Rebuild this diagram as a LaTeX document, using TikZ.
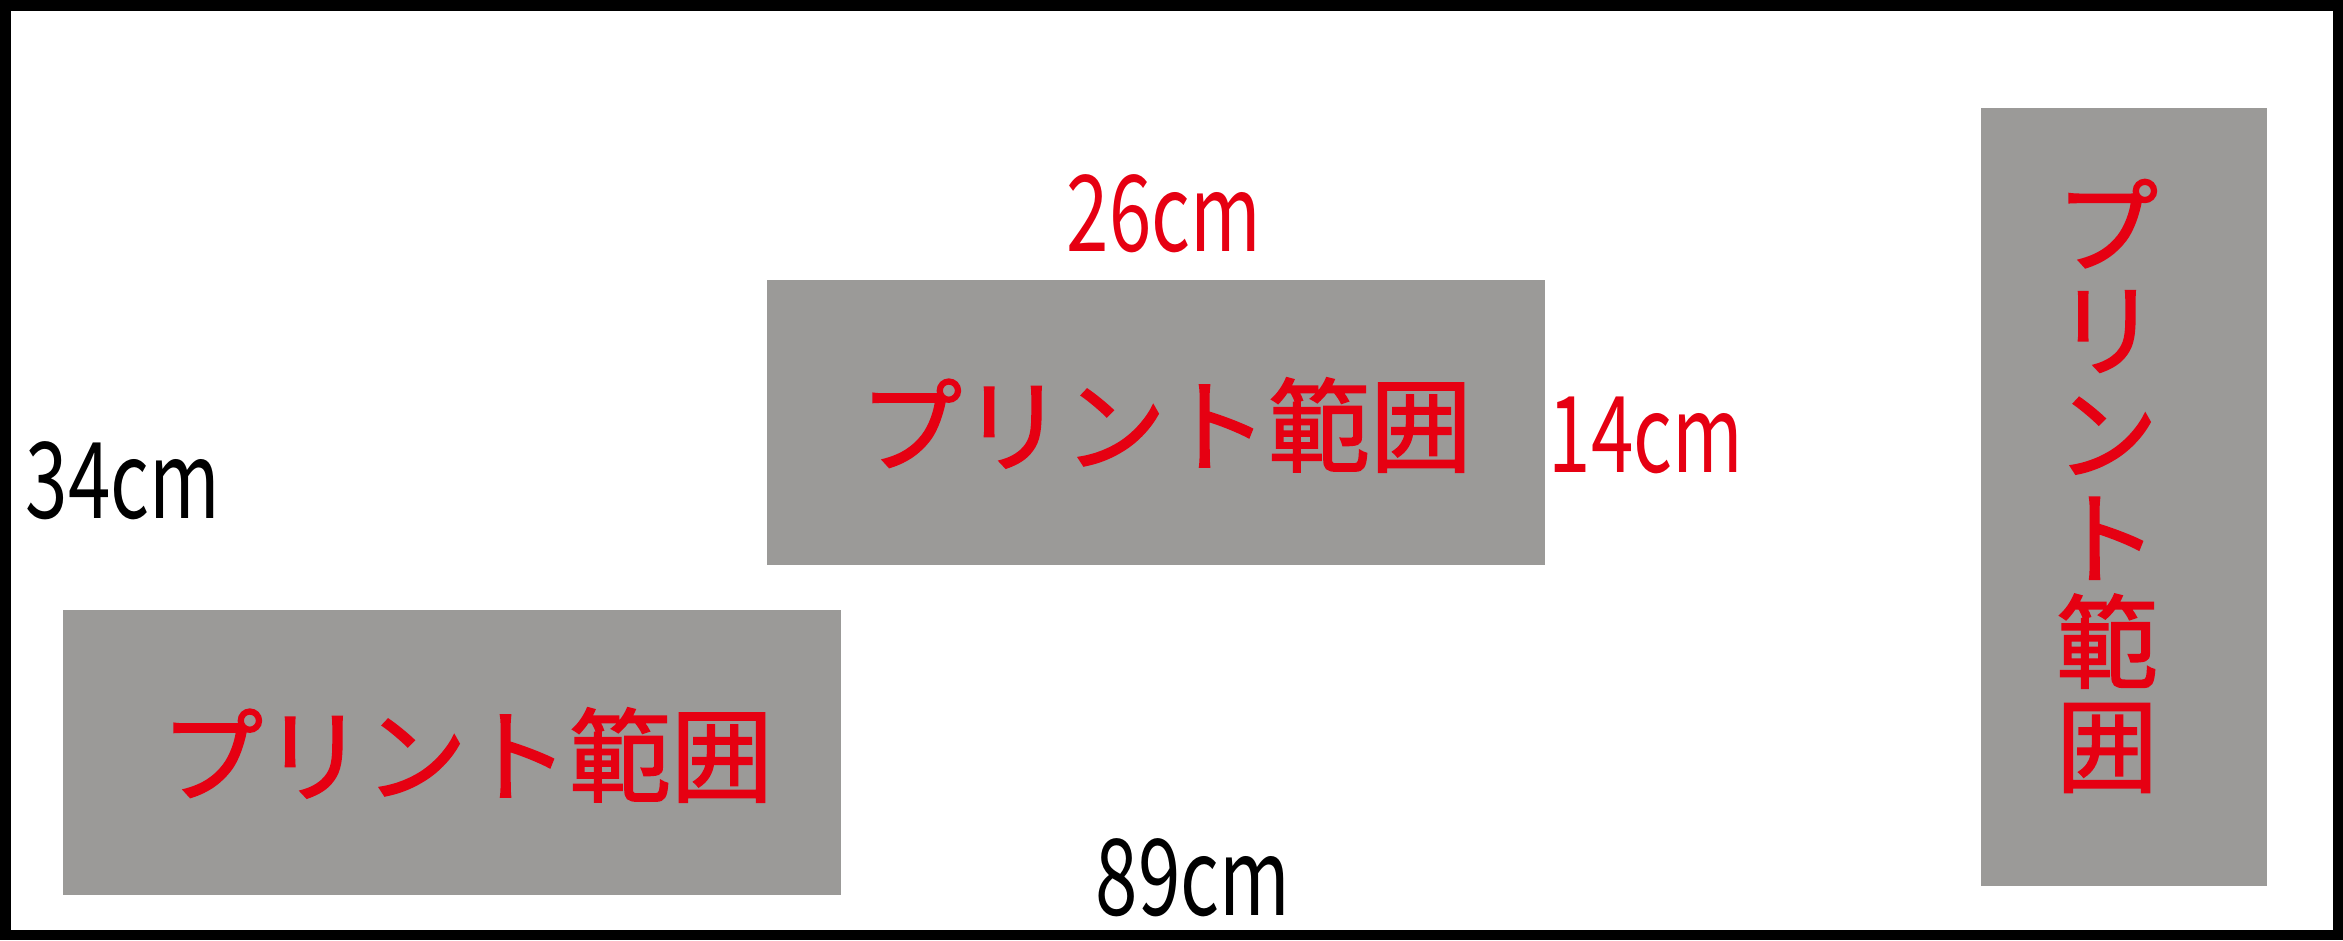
\documentclass[tikz,border=0pt]{standalone}
\usepackage{fontspec}
\newfontfamily\jpfont{Noto Sans CJK JP}
\newfontfamily\jpheavy{Noto Sans CJK JP}[FakeBold=1.6]
\definecolor{boxgray}{RGB}{155,154,152}
\definecolor{jred}{RGB}{230,0,18}
\tikzset{
  printarea/.style={rectangle, fill=boxgray, draw=none, inner sep=0, outer sep=0},
  jptext/.style={font=\jpheavy\fontsize{102}{104}\selectfont, text=jred, inner sep=0, align=center},
  dimlabel/.style={font=\jpfont\fontsize{106}{106}\selectfont, inner sep=0, xscale=0.72},
}
\begin{document}
\begin{tikzpicture}[x=1pt,y=-1pt]
\useasboundingbox (0,0) rectangle (2343,940);
\fill[white] (0,0) rectangle (2343,940);
\draw[line width=10.5pt] (5.25,5.25) rectangle (2337.75,934.75);
% print areas
\node[printarea, minimum width=778pt, minimum height=285pt] (midbox) at (1156,422.5) {};
\node[printarea, minimum width=778pt, minimum height=285pt] (leftbox) at (452,752.5) {};
\node[printarea, minimum width=286pt, minimum height=778pt] (rightbox) at (2124,497) {};
% labels inside
\node[jptext] (midtext) at (1166,425) {プリント範囲};
\node[jptext] (lefttext) at (467,755) {プリント範囲};
\node[jptext] (righttext) at (2107,486) {プ\\リ\\ン\\ト\\範\\囲};
% dimensions
\node[dimlabel, text=jred] (w26) at (1164,214) {26cm};
\node[dimlabel, text=jred] (h14) at (1646,435) {14cm};
\node[dimlabel, text=black] (h34) at (123,481) {34cm};
\node[dimlabel, text=black] (w89) at (1193,878) {89cm};
\end{tikzpicture}
\end{document}
